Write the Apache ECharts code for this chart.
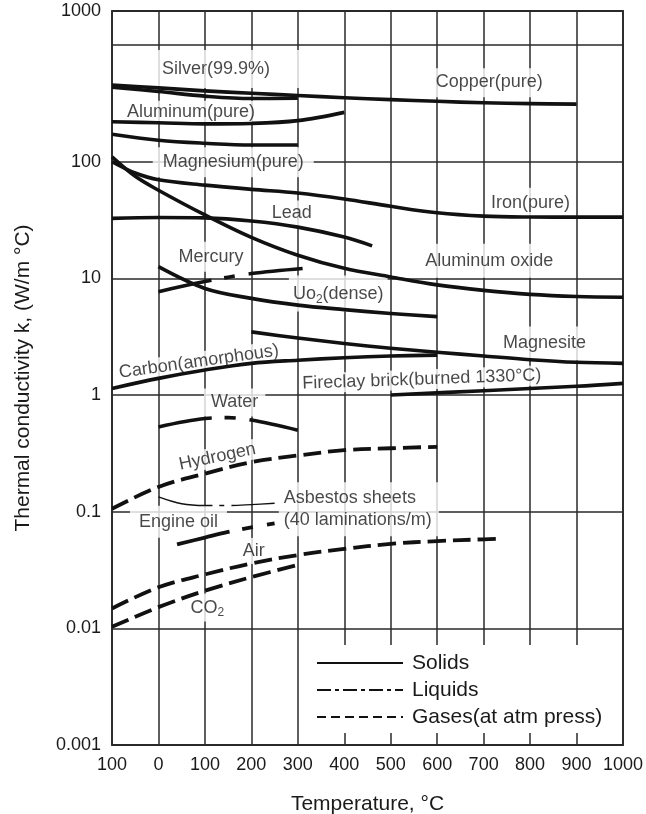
<!DOCTYPE html>
<html>
<head>
<meta charset="utf-8">
<script src="https://cdn.jsdelivr.net/npm/echarts@6/dist/echarts.min.js"></script>
<style>
html,body{margin:0;padding:0;background:#fff;}
#chart{width:646px;height:814px;}
</style>
</head>
<body>
<div id="chart"></div>
<script>
// ---------- data (temperature in °C, conductivity k in W/m °C) ----------
const xTicks = [-100, 0, 100, 200, 300, 400, 500, 600, 700, 800, 900, 1000];
const yTicks = [0.001, 0.01, 0.1, 1, 10, 100, 1000];

const copperT = [-100, 0, 100, 200, 300, 400, 500, 600, 700, 800, 900];
const copperK = [455, 430, 405, 387, 370, 354, 341, 330, 320, 315, 312];

const silverT = [-100, 0, 100, 200, 300];
const silverK = [435, 400, 365, 348, 350];

const aluminumT = [-100, 0, 100, 200, 300, 400];
const aluminumK = [220, 216, 211, 213, 225, 265];

const magnesiumT = [-100, 0, 100, 200, 300];
const magnesiumK = [172, 153, 144, 139, 139];

const ironT = [-100, -50, 0, 100, 200, 300, 400, 500, 600, 700, 800, 900, 1000];
const ironK = [100, 80, 70, 63, 58, 54, 48, 41.5, 36.5, 34.2, 33.6, 33.5, 33.5];

const aluminaT = [-100, -50, 0, 100, 200, 300, 400, 500, 600, 700, 800, 900, 1000];
const aluminaK = [110, 75, 57, 35, 22.5, 15.8, 12.2, 10.3, 8.8, 7.9, 7.3, 7.0, 6.9];

const leadT = [-100, 0, 100, 200, 300, 400, 460];
const leadK = [32.7, 33.3, 33, 31, 27.5, 22.6, 19];

const mercuryT = [0, 100, 200, 315];
const mercuryK = [7.7, 9.4, 11.0, 12.2];

const uo2T = [0, 100, 200, 300, 400, 500, 600];
const uo2K = [12.6, 8.2, 6.74, 5.9, 5.4, 5.0, 4.7];

const magnesiteT = [200, 300, 400, 500, 600, 700, 800, 900, 1000];
const magnesiteK = [3.48, 3.08, 2.77, 2.52, 2.33, 2.16, 2.01, 1.91, 1.87];

const carbonT = [-100, 0, 100, 200, 300, 400, 500, 600];
const carbonK = [1.14, 1.39, 1.64, 1.87, 1.99, 2.09, 2.16, 2.2];

const fireclayT = [500, 700, 900, 1000];
const fireclayK = [1.0, 1.09, 1.19, 1.26];

const waterT = [0, 100, 150, 200, 300];
const waterK = [0.533, 0.63, 0.64, 0.61, 0.50];

const hydrogenT = [-100, 0, 100, 200, 300, 400, 500, 600];
const hydrogenK = [0.106, 0.163, 0.212, 0.266, 0.303, 0.337, 0.35, 0.36];

const engineOilT = [0, 50, 100, 150, 200, 250];
const engineOilK = [0.134, 0.117, 0.113, 0.113, 0.115, 0.118];

const asbestosT = [40, 100, 150, 200, 250];
const asbestosK = [0.0524, 0.060, 0.0671, 0.0735, 0.0795];

const airT = [-100, 0, 100, 200, 300, 400, 500, 600, 700, 730];
const airK = [0.0148, 0.0225, 0.029, 0.036, 0.0425, 0.048, 0.053, 0.056, 0.058, 0.0586];

const co2T = [-100, 0, 100, 200, 300];
const co2K = [0.0103, 0.0152, 0.021, 0.0275, 0.035];

// curve annotations (text and anchor in data units)
const labelText = [
  'Silver(99.9%)', 'Copper(pure)', 'Aluminum(pure)', 'Magnesium(pure)', 'Iron(pure)',
  'Lead', 'Aluminum oxide', 'Mercury', 'Uo{sub|2}(dense)', 'Magnesite',
  'Carbon(amorphous)', 'Fireclay brick(burned 1330°C)', 'Water', 'Hydrogen',
  'Asbestos sheets\n(40 laminations/m)', 'Engine oil', 'Air', 'CO{sub|2}'
];
const labelT = [124, 712, 70, 161, 801, 287, 712, 113, 387, 831, 87, 567, 164, 127, 258, 43, 205, 105];
const labelK = [624, 476, 268, 99, 44.5, 36.0, 14.2, 15.3, 7.43, 2.77, 1.93, 1.36, 0.864, 0.295, 0.105, 0.0818, 0.0461, 0.01507];

const legendNames = ['Solids', 'Liquids', 'Gases(at atm press)'];

// ---------- styles ----------
const FONT = 'Liberation Sans, Arial, Helvetica, sans-serif';
const INK = '#111';
const GRIDC = '#2a2a2a';
const SOLID = 'solid';
const LIQUID = [54, 13, 11, 14];
const GAS = [18, 7];
const labelStyle = {
  'Silver(99.9%)': {padding: [10, 40, 10, 40]},
  'Copper(pure)': {padding: [5, 4, 6, 4]},
  'Magnesium(pure)': {padding: [6, 10, 6, 10]},
  'Iron(pure)': {padding: [6, 4, 6, 4]},
  'Lead': {padding: [4, 2, 4, 2]},
  'Aluminum oxide': {padding: [8, 4, 8, 4]},
  'Mercury': {padding: [6, 2, 6, 2]},
  'Uo{sub|2}(dense)': {padding: [8, 4, 6, 4]},
  'Magnesite': {padding: [8, 6, 8, 6]},
  'Carbon(amorphous)': {rotate: 8, padding: [1, 3, 1, 3]},
  'Fireclay brick(burned 1330°C)': {rotate: 2, padding: [1, 3, 1, 3]},
  'Water': {padding: [5, 7, 5, 7]},
  'Hydrogen': {rotate: 12, padding: [1, 3, 1, 3]},
  'Asbestos sheets\n(40 laminations/m)': {position: 'right', distance: 0, align: 'left', padding: [5, 7, 5, 5], lineHeight: 22},
  'Engine oil': {padding: [7, 9, 7, 9]},
  'Air': {padding: [4, 3, 4, 3]},
  'CO{sub|2}': {padding: [3, 3, 3, 3]}
};

function pts(T, K) { return T.map((t, i) => [t, K[i]]); }
function curve(name, T, K, dash, width) {
  return {
    name: name, type: 'line', data: pts(T, K), smooth: 0.35,
    symbol: 'none', z: 3, silent: true, clip: true,
    lineStyle: {color: INK, width: width || 3.6, type: dash, cap: 'butt', join: 'round'}
  };
}

const series = [
  curve('Copper', copperT, copperK, SOLID),
  curve('Silver', silverT, silverK, SOLID),
  curve('Aluminum', aluminumT, aluminumK, SOLID),
  curve('Magnesium', magnesiumT, magnesiumK, SOLID),
  curve('Iron', ironT, ironK, SOLID),
  curve('Aluminum oxide', aluminaT, aluminaK, SOLID),
  curve('Lead', leadT, leadK, SOLID),
  curve('Mercury', mercuryT, mercuryK, LIQUID),
  curve('UO2', uo2T, uo2K, SOLID),
  curve('Magnesite', magnesiteT, magnesiteK, SOLID),
  curve('Carbon', carbonT, carbonK, SOLID),
  curve('Fireclay', fireclayT, fireclayK, SOLID),
  curve('Water', waterT, waterK, LIQUID),
  curve('Hydrogen', hydrogenT, hydrogenK, GAS, 3.8),
  curve('Engine oil', engineOilT, engineOilK, [55, 7, 5, 7], 1.4),
  curve('Asbestos', asbestosT, asbestosK, LIQUID, 3.8),
  curve('Air', airT, airK, GAS, 3.8),
  curve('CO2', co2T, co2K, GAS, 3.8),
  {
    name: 'labels', type: 'scatter', z: 2, silent: true, symbolSize: 1,
    itemStyle: {color: 'rgba(0,0,0,0)'},
    label: {
      show: true, position: 'inside', color: '#1a1a1a', fontSize: 18, fontFamily: FONT,
      backgroundColor: '#fff', padding: [2, 3, 2, 3],
      rich: {sub: {fontSize: 12, fontFamily: FONT, color: '#1a1a1a', padding: [10, 0, 0, 0]}}
    },
    labelLayout: {hideOverlap: false},
    data: labelText.map((t, i) => ({
      value: [labelT[i], labelK[i]],
      label: Object.assign({formatter: t}, labelStyle[t] || {})
    }))
  },
  {name: legendNames[0], type: 'line', data: [], symbol: 'none', lineStyle: {color: INK, width: 1.6, type: 'solid'}},
  {name: legendNames[1], type: 'line', data: [], symbol: 'none', lineStyle: {color: INK, width: 1.6, type: [14, 4, 4, 4]}},
  {name: legendNames[2], type: 'line', data: [], symbol: 'none', lineStyle: {color: INK, width: 1.6, type: [9, 5]}}
];

const chart = echarts.init(document.getElementById('chart'), null, {renderer: 'canvas'});
chart.setOption({
  animation: false,
  backgroundColor: '#fff',
  textStyle: {fontFamily: FONT},
  grid: {left: 112, right: 23, top: 11, bottom: 69, show: true, borderColor: GRIDC, borderWidth: 1.8,
    containLabel: false, outerBoundsMode: 'none'},
  legend: {
    data: legendNames, orient: 'vertical', left: 305, top: 645,
    itemWidth: 86, itemHeight: 14, itemGap: 5,
    itemStyle: {opacity: 0, borderWidth: 0},
    backgroundColor: '#fff', padding: [7, 8, 5, 11],
    textStyle: {fontSize: 21, lineHeight: 22, color: '#1a1a1a', fontFamily: FONT, padding: [0, 0, 0, 4]},
    selectedMode: false
  },
  xAxis: {
    type: 'value', min: xTicks[0], max: xTicks[xTicks.length - 1], interval: 100,
    name: 'Temperature, °C', nameLocation: 'middle', nameGap: 49,
    nameTextStyle: {fontSize: 21, color: '#1a1a1a', fontFamily: FONT},
    axisLine: {show: false}, axisTick: {show: false},
    axisLabel: {fontSize: 18, color: '#1a1a1a', margin: 11, fontFamily: FONT,
      formatter: v => String(Math.abs(v))},
    splitLine: {show: true, lineStyle: {color: GRIDC, width: 1.5}}
  },
  yAxis: {
    type: 'log', logBase: 10, min: yTicks[0], max: 1960,
    name: 'Thermal conductivity k, (W/m °C)', nameLocation: 'middle', nameGap: 78,
    nameTextStyle: {fontSize: 21, color: '#1a1a1a', fontFamily: FONT},
    axisLine: {show: false}, axisTick: {show: false},
    axisLabel: {fontSize: 18, color: '#1a1a1a', margin: 11, fontFamily: FONT,
      formatter: v => {
        if (v > 1500) return String(yTicks[yTicks.length - 1]);
        if (Math.abs(v - 1000) < 1e-6) return '';
        return String(+Number(v).toPrecision(3));
      }},
    splitLine: {show: true, lineStyle: {color: GRIDC, width: 1.5}}
  },
  series: series
});
</script>
</body>
</html>
